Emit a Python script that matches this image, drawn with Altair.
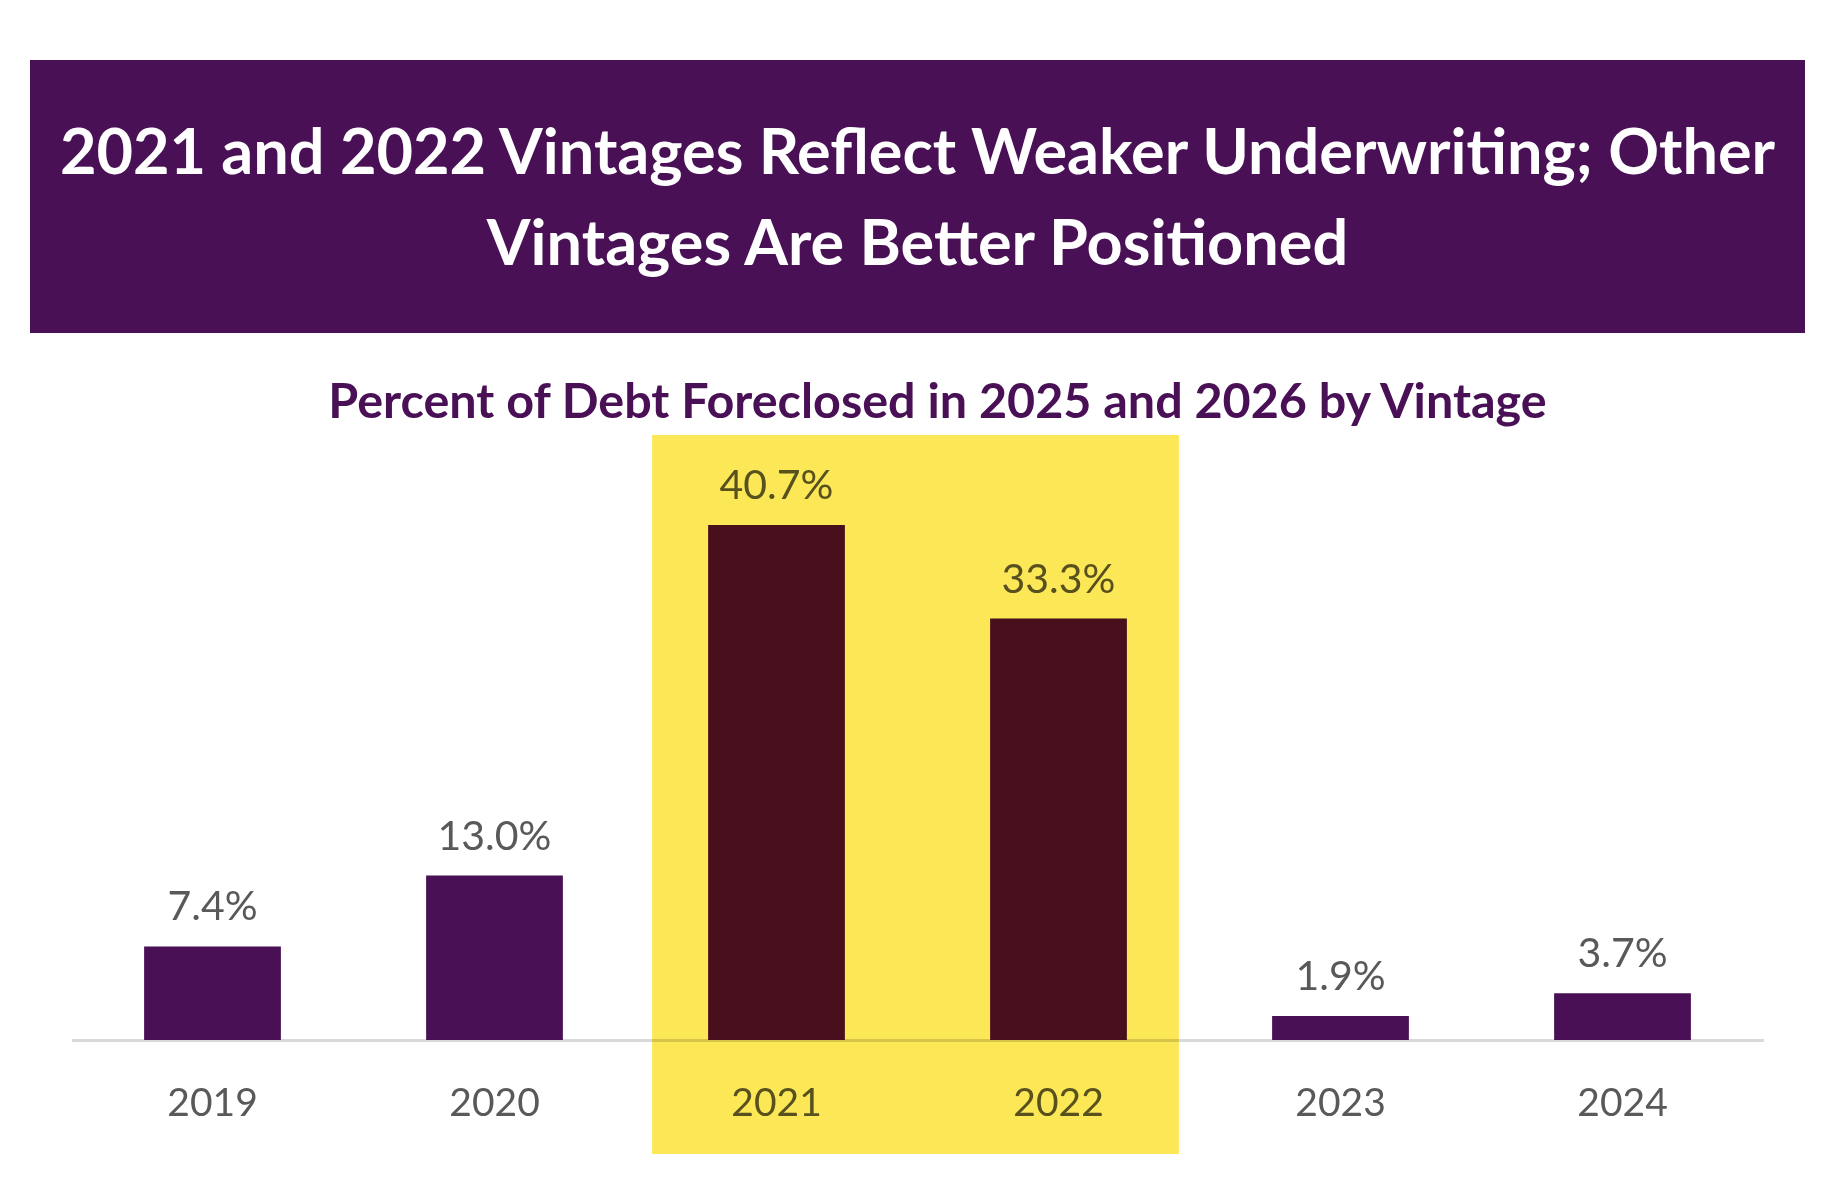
import altair as alt
import pandas as pd

# ---- data ----
years = ["2019", "2020", "2021", "2022", "2023", "2024"]
pct = [7.4, 13.0, 40.7, 33.3, 1.9, 3.7]
highlight_years = ["2021", "2022"]
title_lines = [
    "2021 and 2022 Vintages Reflect Weaker Underwriting; Other",
    "Vintages Are Better Positioned",
]
subtitle = "Percent of Debt Foreclosed in 2025 and 2026 by Vintage"

PURPLE = "#491056"
YELLOW = "#FCE856"
GRAY = "#595959"
AXIS_GRAY = "#D9D9D9"

bars_df = pd.DataFrame({"year": years, "pct": pct})
hl_df = pd.DataFrame({"start": [highlight_years[0]], "end": [highlight_years[-1]]})
banner_df = pd.DataFrame({"line": [0, 1], "text": title_lines, "pos": ["c", "c"]})

# ---- banner ----
banner = (
    alt.Chart(banner_df)
    .mark_text(font="Lato", fontWeight="bold", fontSize=63, color="white",
               baseline="alphabetic", align="center")
    .encode(
        x=alt.X("pos:N", axis=None),
        y=alt.Y("line:O", axis=None,
                scale=alt.Scale(type="point", padding=1.185, align=0.625)),
        text="text:N",
    )
    .properties(width=1775, height=273,
                view=alt.ViewBackground(fill=PURPLE, stroke="transparent",
                                        strokeWidth=0))
)

# ---- main chart ----
xscale = alt.Scale(domain=years, paddingInner=0.515, paddingOuter=0.2575)
yscale = alt.Scale(domain=[-9, 47.8], nice=False)

x = alt.X(
    "year:N", scale=xscale, title=None,
    axis=alt.Axis(labelAngle=0, labelFont="Lato", labelFontSize=39,
                  labelColor=GRAY, ticks=False, domainColor=AXIS_GRAY,
                  domainWidth=3, offset=-114, labelPadding=44, grid=False),
)

bars = alt.Chart(bars_df).mark_bar(color=PURPLE).encode(
    x=x, y=alt.Y("pct:Q", scale=yscale, axis=None)
)

labels = (
    alt.Chart(bars_df)
    .transform_calculate(lab="format(datum.pct, '.1f') + '%'")
    .mark_text(font="Lato", fontSize=41, color=GRAY, baseline="alphabetic",
               align="center", dy=-26)
    .encode(x=alt.X("year:N", scale=xscale), y=alt.Y("pct:Q", scale=yscale),
            text="lab:N")
)

hl = alt.Chart(hl_df).mark_rect(color=YELLOW, blend="multiply",
                                 xOffset=-56, x2Offset=52).encode(
    x=alt.X("start:N", scale=xscale, bandPosition=0),
    x2=alt.X2("end:N", bandPosition=1),
)

main = alt.layer(bars, labels, hl).properties(
    width=1692, height=719,
    view=alt.ViewBackground(stroke="transparent", strokeWidth=0),
    title=alt.TitleParams(subtitle, font="Lato", fontWeight="bold", fontSize=48.5,
                          color=PURPLE, anchor="middle", baseline="alphabetic",
                          offset=-31, dx=20),
)

chart = (
    alt.vconcat(banner, main, spacing=45, center=True)
    .properties(padding={"left": 22, "top": 52, "right": 0, "bottom": 0})
    .configure_view(stroke="transparent", strokeWidth=0)
    .configure(background="white")
)

chart.save("out.html", embed_options={"renderer": "svg", "actions": False})
